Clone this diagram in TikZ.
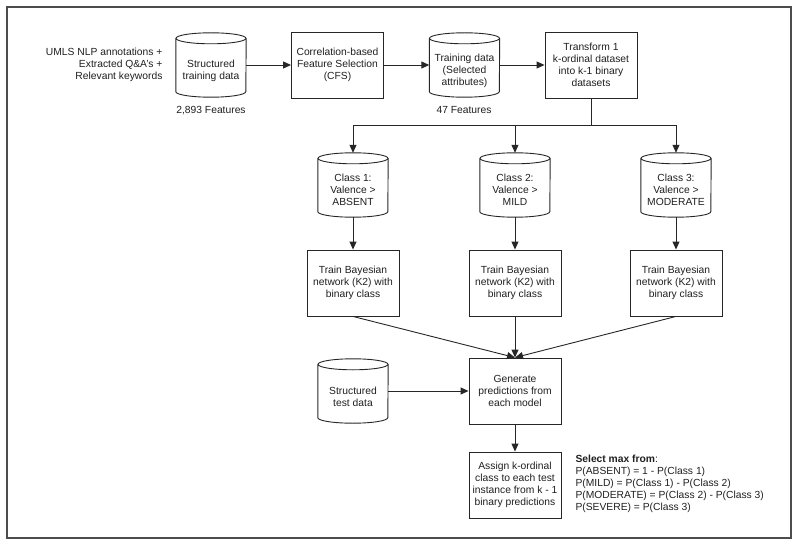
\documentclass[tikz,border=0pt]{standalone}
\usepackage{fontspec}
\setmainfont{Liberation Sans}
\usetikzlibrary{arrows.meta,calc}
\newcommand\drawcyl[1]{%
 \draw[conn] ($(#1.north)+(0,5.5)$) ellipse [x radius=35pt, y radius=5.5pt];
 \draw[conn] ($(#1.north west)+(0,5.5)$) -- ($(#1.south west)+(0,-5.5)$) arc [start angle=180, end angle=360, x radius=35pt, y radius=5.5pt] -- ($(#1.north east)+(0,5.5)$);}
\begin{document}
\begin{tikzpicture}[x=1pt,y=-1pt,
  every node/.style={font=\fontsize{10.3}{12}\selectfont, text=black!88},
  procbox/.style={draw=black!85, line width=0.9pt, minimum width=92pt, minimum height=66pt, align=center, inner sep=0pt},
  cylbox/.style={minimum width=70pt, minimum height=64pt, inner sep=0pt},
  cyltext/.style={align=center},
  arr/.style={draw=black!85, line width=0.9pt, -{Triangle[length=8pt,width=7pt]}},
  conn/.style={draw=black!85, line width=0.9pt},
  ]
\useasboundingbox (0,0) rectangle (800,556);
\draw[draw=black!70, line width=1.6pt] (7,7) rectangle (791,538);

% row 1
\node[anchor=east, align=right] (src) at (166,65) {UMLS NLP annotations +\\Extracted Q\&A's +\\Relevant keywords};
\node[cylbox] (std) at (211,65) {};
\drawcyl{std}
\node[cyltext] (stdt) at (211,71) {Structured\\training data};
\node (f1) at (211,111) {2,893 Features};
\node[procbox] (cfs) at (337.5,65) {Correlation-based\\Feature Selection\\(CFS)};
\node[cylbox] (td) at (464.5,65) {};
\drawcyl{td}
\node[cyltext] (tdt) at (464.5,71) {Training data\\(Selected\\attributes)};
\node (f2) at (464,110) {47 Features};
\node[procbox] (tr) at (591,65) {Transform 1\\k-ordinal dataset\\into k-1 binary\\datasets};

% classes
\node[cylbox] (c1) at (353,185) {};
\drawcyl{c1}
\node[cyltext] (c1t) at (353,190) {Class 1:\\Valence >\\ABSENT};
\node[cylbox] (c2) at (515,185) {};
\drawcyl{c2}
\node[cyltext] (c2t) at (515,190) {Class 2:\\Valence >\\MILD};
\node[cylbox] (c3) at (676,185) {};
\drawcyl{c3}
\node[cyltext] (c3t) at (676,190) {Class 3:\\Valence >\\MODERATE};

% train boxes
\node[procbox] (b1) at (353,283) {Train Bayesian\\network (K2) with\\binary class};
\node[procbox] (b2) at (515,283) {Train Bayesian\\network (K2) with\\binary class};
\node[procbox] (b3) at (676,283) {Train Bayesian\\network (K2) with\\binary class};

% prediction
\node[procbox] (gen) at (515,391) {Generate\\predictions from\\each model};
\node[cylbox] (test) at (353,391) {};
\drawcyl{test}
\node[cyltext] (testt) at (353,397) {Structured\\test data};
\node[procbox] (asg) at (515,485) {Assign k-ordinal\\class to each test\\instance from k - 1\\binary predictions};
\node[anchor=west, align=left] (sel) at (572,484) {\textbf{Select max from}:\\P(ABSENT) = 1 - P(Class 1)\\P(MILD) = P(Class 1) - P(Class 2)\\P(MODERATE) = P(Class 2) - P(Class 3)\\P(SEVERE) = P(Class 3)};

% connectors
\draw[arr] (std.east) -- (cfs.west);
\draw[arr] (cfs.east) -- (td.west);
\draw[arr] (td.east) -- (tr.west);
\coordinate (split) at (591,125);
\draw[arr] (tr.south) -- (split) -| (c1.north);
\draw[arr] (split) -| (c3.north);
\draw[arr] (c2.north |- split) -- (c2.north);
\draw[arr] (c1.south) -- (b1.north);
\draw[arr] (c2.south) -- (b2.north);
\draw[arr] (c3.south) -- (b3.north);
\draw[arr] (b1.south) -- (gen.north);
\draw[arr] (b2.south) -- (gen.north);
\draw[arr] (b3.south) -- (gen.north);
\draw[arr] (test.east) -- (gen.west);
\draw[arr] (gen.south) -- (asg.north);
\end{tikzpicture}
\end{document}
